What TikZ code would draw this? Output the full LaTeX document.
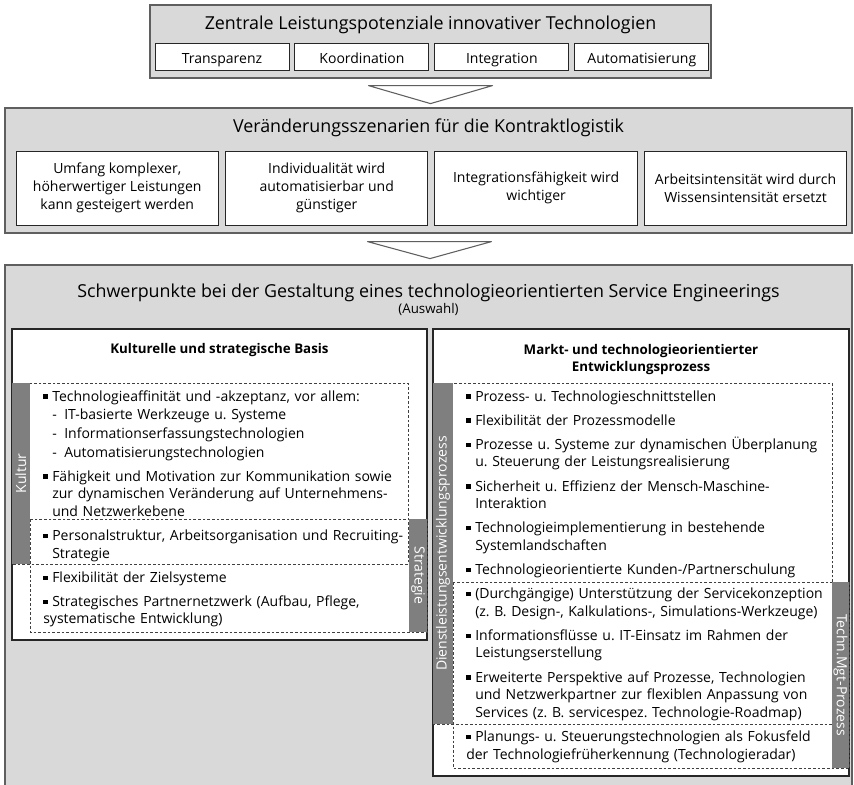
\documentclass[tikz,border=0pt]{standalone}
\usepackage{fontspec}
\setmainfont{Open Sans}
\usepackage{xcolor}
\definecolor{panelgray}{HTML}{D9D9D9}
\definecolor{framegray}{HTML}{5F5F5F}
\definecolor{bargray}{HTML}{7F7F7F}
\usetikzlibrary{positioning, calc}
\setlength{\parindent}{0pt}
\newcommand{\itmbody}{\hangindent=6.75pt\hangafter=1\noindent\makebox[6.75pt][l]{\raisebox{1.8pt}{\rule{3.2pt}{3.2pt}}}}
\newcommand{\itm}{\par\itmbody}
\newcommand{\dsh}{\vadjust{\vskip0.8pt}\newline\makebox[9pt][l]{-}}
\frenchspacing

\begin{document}
\begin{tikzpicture}[x=0.75pt, y=-0.75pt,
    panel/.style={draw=framegray, fill=panelgray, line width=0.9pt, inner sep=0pt},
    cell/.style={draw=black!85, fill=white, line width=0.7pt, inner sep=0pt, align=center, font=\fontsize{10.5}{13.5}\selectfont},
    tab/.style={draw=black!85, fill=white, line width=0.7pt, inner sep=0pt, font=\fontsize{10.5}{13.5}\selectfont, minimum width=100.5pt, minimum height=20.25pt, text height=10pt, text depth=0pt},
    scenario/.style={cell, minimum width=151.875pt, minimum height=55.5pt},
    heading/.style={inner sep=0pt, font=\fontsize{13.4}{15}\selectfont},
    column/.style={draw=black!85, fill=white, line width=0.8pt, inner sep=0pt},
    coltitle/.style={inner sep=0pt, align=center, font=\fontsize{10}{12.75}\selectfont\bfseries},
    zone/.style={draw=black!75, dash pattern=on 2pt off 1.5pt, line width=0.6pt},
    tag/.style={fill=bargray, text=white, inner sep=0pt, font=\fontsize{10.5}{12}\selectfont},
    items/.style={inner sep=0pt, anchor=base west, text width=320pt, align=left, font=\fontsize{10.5}{13.2}\selectfont},
    chevron/.style={draw=framegray, fill=white, line width=0.8pt, line join=round}]
    \useasboundingbox (0,0) rectangle (854,785);
    \clip (0,0) rectangle (854,785);

    \node[panel, minimum width=420.75pt, minimum height=54.75pt] (potenziale) at (430.5,41.5) {};
    \node[heading] (potenzialetitel) at ($(potenziale.north)+(0,20)$) {Zentrale Leistungspotenziale innovativer Technologien};
    \node[tab] (transparenz) at (222,56.5) {Transparenz};
    \node[tab, right=3.75pt of transparenz] (koordination) {Koordination};
    \node[tab, right=3.75pt of koordination] (integration) {Integration};
    \node[tab, right=3.75pt of integration] (automatisierung) {Automatisierung};

    \draw[chevron] ($(potenziale.south)+(-62,7)$) -- ++(124,0) -- ($(potenziale.south)+(0,25)$) -- cycle;

    \node[panel, minimum width=635.25pt, minimum height=93.75pt] (szenarien) at (428.5,170.5) {};
    \node[heading] (szenarientitel) at ($(szenarien.north)+(0,20)$) {Veränderungsszenarien für die Kontraktlogistik};
    \node[scenario] (umfang) at (117.25,188) {Umfang komplexer,\\höherwertiger Leistungen\\kann gesteigert werden};
    \node[scenario, right=4.5pt of umfang] (individualitaet) {Individualität wird\\automatisierbar und\\günstiger};
    \node[scenario, right=4.5pt of individualitaet] (integrationsf) {Integrationsfähigkeit wird\\wichtiger};
    \node[scenario, right=4.5pt of integrationsf] (arbeitsint) {Arbeitsintensität wird durch\\Wissensintensität ersetzt};

    \draw[chevron] ($(szenarien.south)+(-61,8)$) -- ++(124,0) -- ($(szenarien.south)+(1.5,25)$) -- cycle;

    \node[panel, minimum width=635.25pt, minimum height=393.75pt] (schwerpunkte) at (428.5,527.5) {};
    \node[heading] (schwerpunktetitel) at ($(schwerpunkte.north)+(0,28)$) {Schwerpunkte bei der Gestaltung eines technologieorientierten Service Engineerings};
    \node[inner sep=0pt, font=\fontsize{10}{11}\selectfont] (auswahl) at ($(schwerpunkte.north)+(0,45)$) {(Auswahl)};

    \node[column, minimum width=311.25pt, minimum height=233.25pt] (basis) at (219.5,484.5) {};
    \node[coltitle] (basistitel) at ($(basis.north)+(0,22)$) {Kulturelle und strategische Basis};
    \node[column, minimum width=312pt, minimum height=335.25pt] (prozess) at (641,552.5) {};
    \node[coltitle] (prozesstitel) at ($(prozess.north)+(0,31.5)$) {Markt- und technologieorientierter\\Entwicklungsprozess};

    \draw[zone] (12,383) rectangle (408,564);
    \draw[zone] (30,519) rectangle (427,632);
    \draw[zone] (433,383) rectangle (832,724);
    \draw[zone] (453,582) rectangle (849,768);

    \node[tag, minimum width=135.75pt, minimum height=13.5pt, rotate=90] (kultur) at (21,473.5) {Kultur};
    \node[tag, minimum width=84.75pt, minimum height=13.5pt, rotate=-90] (strategie) at (418,575.5) {Strategie};
    \node[tag, minimum width=255.75pt, minimum height=15pt, rotate=90] (dienstleistung) at (443,553.5) {Dienstleistungsentwicklungsprozess};
    \node[tag, minimum width=139.5pt, minimum height=12.75pt, rotate=-90] (technmgt) at (840.5,675) {Techn.Mgt-Prozess};

    \node[items] (basisitems) at (43,401) {\setlength{\parskip}{4.9pt}%
        \itmbody Technologieaffinität und -akzeptanz, vor allem:\dsh IT-basierte Werkzeuge u. Systeme\dsh Informationserfassungstechnologien\dsh Automatisierungstechnologien
        \itm Fähigkeit und Motivation zur Kommunikation sowie\newline zur dynamischen Veränderung auf Unternehmens-\newline und Netzwerkebene
        \itm Personalstruktur, Arbeitsorganisation und Recruiting-\newline Strategie
        \itm Flexibilität der Zielsysteme
        \itm Strategisches Partnernetzwerk (Aufbau, Pflege,\newline systematische Entwicklung)};

    \node[items] (prozessitems) at (466,401) {\setlength{\parskip}{4.9pt}%
        \itmbody Prozess- u. Technologieschnittstellen
        \itm Flexibilität der Prozessmodelle
        \itm Prozesse u. Systeme zur dynamischen Überplanung\newline u. Steuerung der Leistungsrealisierung
        \itm Sicherheit u. Effizienz der Mensch-Maschine-\newline Interaktion
        \itm Technologieimplementierung in bestehende\newline Systemlandschaften
        \itm Technologieorientierte Kunden-/Partnerschulung
        \itm (Durchgängige) Unterstützung der Servicekonzeption\newline (z.~B. Design-, Kalkulations-, Simulations-Werkzeuge)
        \itm Informationsflüsse u. IT-Einsatz im Rahmen der\newline Leistungserstellung
        \itm Erweiterte Perspektive auf Prozesse, Technologien\newline und Netzwerkpartner zur flexiblen Anpassung von\newline Services (z.~B. servicespez. Technologie-Roadmap)
        \itm Planungs- u. Steuerungstechnologien als Fokusfeld\newline der Technologiefrüherkennung (Technologieradar)};
\end{tikzpicture}
\end{document}
